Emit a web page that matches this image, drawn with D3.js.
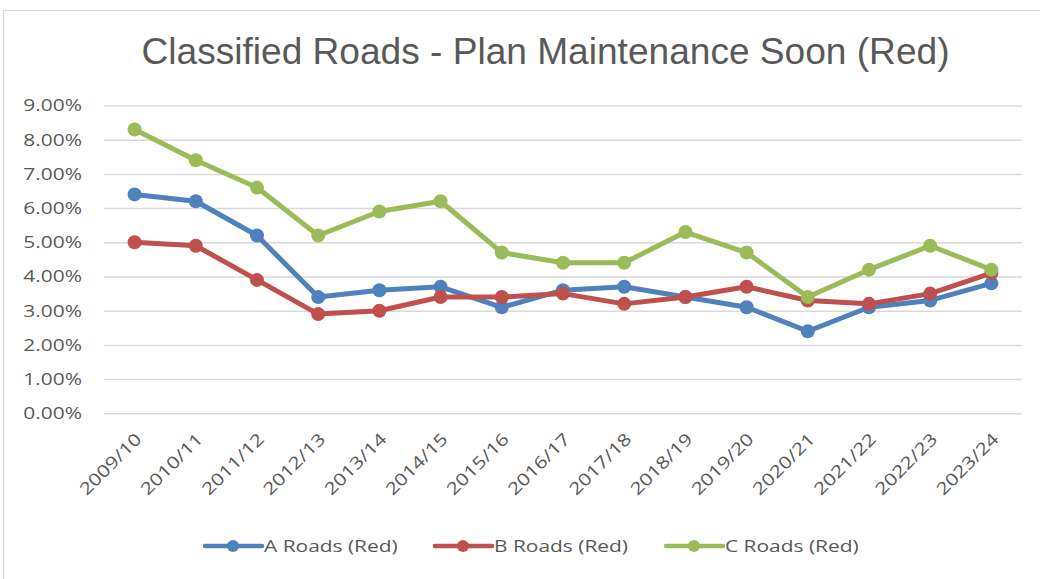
<!DOCTYPE html>
<html>
<head>
<meta charset="utf-8">
<script src="https://cdn.jsdelivr.net/npm/d3@7"></script>
<style>
  html, body { margin: 0; padding: 0; background: #fff; }
  svg { display: block; }
</style>
</head>
<body>
<svg id="chart"></svg>
<script>
// Data
const years = ["2009/10", "2010/11", "2011/12", "2012/13", "2013/14", "2014/15", "2015/16",
  "2016/17", "2017/18", "2018/19", "2019/20", "2020/21", "2021/22", "2022/23", "2023/24"];
const aRoads = [6.4, 6.2, 5.2, 3.4, 3.6, 3.7, 3.1, 3.6, 3.7, 3.4, 3.1, 2.4, 3.1, 3.3, 3.8];
const bRoads = [5.0, 4.9, 3.9, 2.9, 3.0, 3.4, 3.4, 3.5, 3.2, 3.4, 3.7, 3.3, 3.2, 3.5, 4.1];
const cRoads = [8.3, 7.4, 6.6, 5.2, 5.9, 6.2, 4.7, 4.4, 4.4, 5.3, 4.7, 3.4, 4.2, 4.9, 4.2];
const yTicks = [0, 1, 2, 3, 4, 5, 6, 7, 8, 9];
const seriesNames = ["A Roads (Red)", "B Roads (Red)", "C Roads (Red)"];
const seriesColors = ["#4F81BD", "#C0504D", "#9BBB59"];

const series = [aRoads, bRoads, cRoads].map((values, i) => ({
  name: seriesNames[i], color: seriesColors[i], values
}));

// Layout
const W = 1040, H = 579;
const plot = { left: 104, right: 1022, top: 105.5, bottom: 413.3 };
const textColor = "#595959";
const bodyFont = "'Open Sans', Lato, sans-serif";
const bodySize = 17;
const STRETCH = 1.23; // labels in the source are drawn a bit wide

// widen a text selection horizontally, keeping its glyphs
function stretch(sel) {
  sel.each(function () {
    const w = this.getComputedTextLength();
    d3.select(this).attr("textLength", w * STRETCH).attr("lengthAdjust", "spacingAndGlyphs");
  });
}

const svg = d3.select("#chart").attr("width", W).attr("height", H);

// chart frame
svg.append("rect")
  .attr("x", 3.5).attr("y", 10.5)
  .attr("width", W + 10).attr("height", H + 10)
  .attr("fill", "#fff").attr("stroke", "#D9D9D9");

// Scales
const x = d3.scaleBand().domain(years).range([plot.left, plot.right]);
const y = d3.scaleLinear().domain([0, 9]).range([plot.bottom, plot.top]);
const cx = d => x(d) + x.bandwidth() / 2;

// Title
svg.append("text")
  .attr("x", 545.5).attr("y", 63.5)
  .attr("text-anchor", "middle")
  .attr("font-family", "'Liberation Sans', Arial, sans-serif")
  .attr("font-size", 36)
  .attr("fill", textColor)
  .attr("textLength", 808).attr("lengthAdjust", "spacingAndGlyphs")
  .text("Classified Roads - Plan Maintenance Soon (Red)");

// Gridlines + y axis
const yAxis = svg.append("g")
  .attr("transform", `translate(${plot.left},0)`)
  .call(d3.axisLeft(y).tickValues(yTicks).tickSize(-(plot.right - plot.left)).tickPadding(22)
    .tickFormat(d => d.toFixed(2) + "%"));
yAxis.select(".domain").remove();
yAxis.selectAll(".tick line").attr("stroke", "#D9D9D9").attr("stroke-width", 1.5);
yAxis.selectAll(".tick text")
  .attr("font-family", bodyFont).attr("font-size", bodySize).attr("fill", textColor)
  .call(stretch);

// X labels
svg.append("g")
  .selectAll("text")
  .data(years)
  .join("text")
  .attr("transform", d => `translate(${cx(d) + 4},${436}) rotate(-45)`)
  .attr("text-anchor", "end")
  .attr("dy", "0.35em")
  .attr("font-family", bodyFont).attr("font-size", bodySize)
  .attr("fill", textColor)
  .text(d => d)
  .call(stretch);

// Lines
const line = d3.line()
  .x((d, i) => cx(years[i]))
  .y(d => y(d));

series.forEach(s => {
  const g = svg.append("g");
  g.append("path")
    .attr("d", line(s.values))
    .attr("fill", "none")
    .attr("stroke", s.color)
    .attr("stroke-width", 5)
    .attr("stroke-linejoin", "round")
    .attr("stroke-linecap", "round");
  g.selectAll("circle")
    .data(s.values)
    .join("circle")
    .attr("cx", (d, i) => cx(years[i]))
    .attr("cy", d => y(d))
    .attr("r", 7)
    .attr("fill", s.color);
});

// Legend
const legendX = [205, 435, 666];
series.forEach((s, i) => {
  const g = svg.append("g").attr("transform", `translate(${legendX[i]},546)`);
  g.append("line")
    .attr("x1", 0).attr("x2", 57)
    .attr("stroke", s.color).attr("stroke-width", 4.5).attr("stroke-linecap", "round");
  g.append("circle").attr("cx", 28).attr("r", 6).attr("fill", s.color);
  g.append("text")
    .attr("x", 59).attr("dy", "0.35em")
    .attr("font-family", bodyFont).attr("font-size", bodySize)
    .attr("fill", textColor)
    .text(s.name)
    .call(stretch);
});
</script>
</body>
</html>
